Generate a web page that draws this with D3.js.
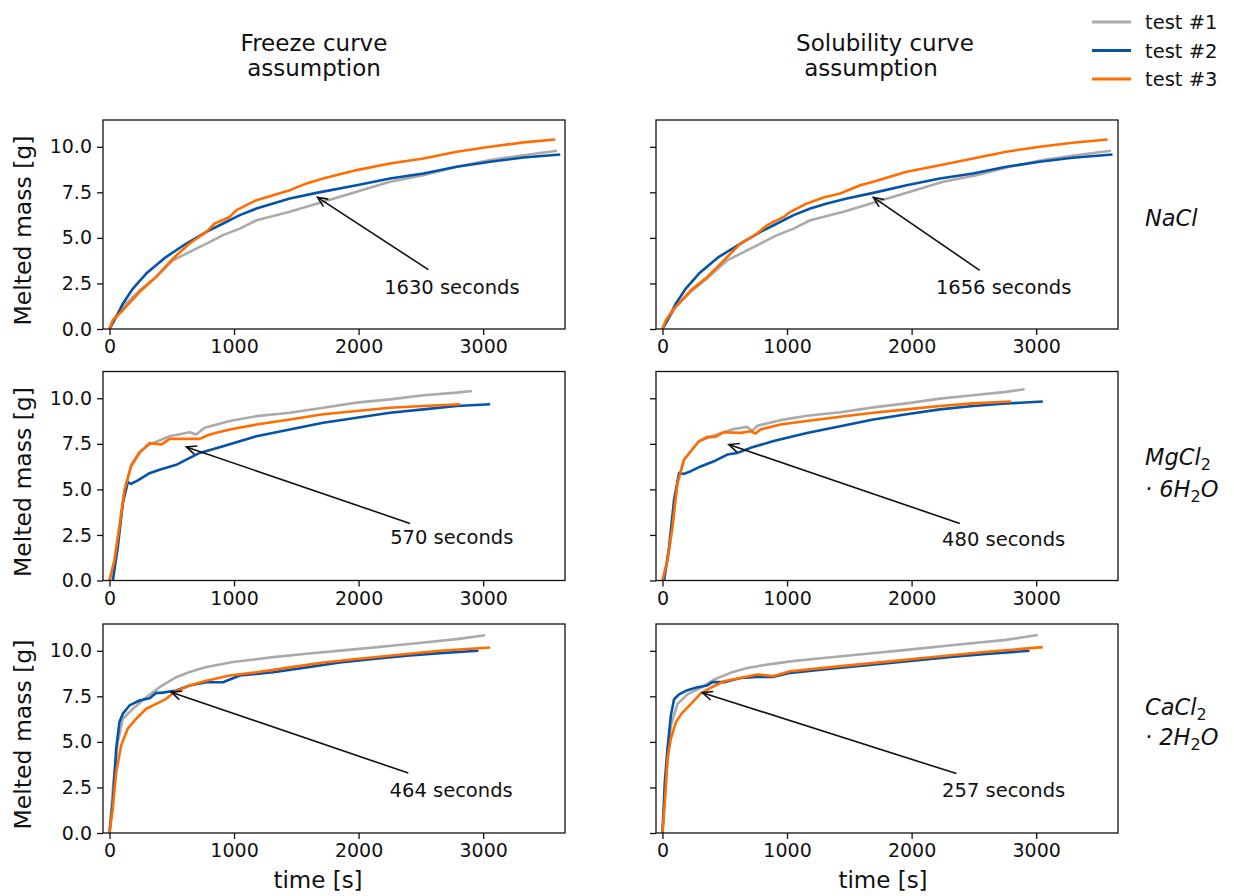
<!DOCTYPE html>
<html>
<head>
<meta charset="utf-8">
<script src="https://cdn.jsdelivr.net/npm/d3@7"></script>
<style>
  body { margin: 0; background: #fff; }
  text { font-family: "DejaVu Sans", sans-serif; fill: #111; }
</style>
</head>
<body>
<svg></svg>
<script>
// series: [time s, melted mass g]
const naclFreeze1 = [[0,0],[30,0.5],[107,1.21],[241,2.12],[375,2.86],[509,3.77],[617,4.14],[778,4.69],[912,5.15],[1046,5.51],[1180,5.97],[1448,6.43],[1716,6.98],[1984,7.53],[2252,8.08],[2520,8.44],[2788,8.9],[3056,9.27],[3324,9.54],[3592,9.78]]
const naclFreeze2 = [[0,0],[54,0.66],[107,1.39],[188,2.22],[295,3.04],[456,3.96],[617,4.69],[778,5.33],[912,5.79],[1046,6.25],[1180,6.61],[1314,6.89],[1448,7.16],[1662,7.47],[1984,7.89],[2252,8.26],[2520,8.53],[2788,8.9],[3056,9.18],[3324,9.41],[3619,9.58]]
const naclFreeze3 = [[0,0],[27,0.48],[107,1.03],[241,2.03],[375,2.86],[509,3.86],[643,4.69],[778,5.33],[845,5.79],[965,6.15],[1019,6.52],[1180,7.07],[1314,7.34],[1448,7.62],[1582,7.99],[1716,8.26],[1984,8.72],[2252,9.08],[2520,9.36],[2788,9.73],[3056,10.0],[3324,10.24],[3579,10.4]]

const naclSol1 = [[0,0],[107,1.21],[240,2.12],[373,2.86],[520,3.77],[627,4.14],[787,4.69],[920,5.15],[1053,5.51],[1187,5.97],[1453,6.43],[1720,6.98],[1987,7.53],[2253,8.08],[2520,8.44],[2787,8.9],[3053,9.27],[3320,9.54],[3600,9.78]]
const naclSol2 = [[0,0],[53,0.66],[107,1.39],[187,2.22],[293,3.04],[453,3.96],[627,4.69],[787,5.33],[920,5.79],[1053,6.25],[1187,6.61],[1320,6.89],[1480,7.16],[1693,7.47],[1960,7.89],[2227,8.26],[2493,8.53],[2760,8.9],[3027,9.18],[3293,9.4],[3613,9.58]]
const naclSol3 = [[0,0],[27,0.48],[93,1.12],[227,2.12],[360,2.86],[493,3.77],[627,4.69],[760,5.24],[840,5.7],[973,6.15],[1027,6.43],[1160,6.89],[1293,7.22],[1427,7.44],[1587,7.89],[1693,8.08],[1960,8.63],[2227,8.99],[2493,9.36],[2760,9.73],[3027,10.0],[3293,10.22],[3573,10.4]]

const mgFreeze1 = [[0,0],[40,1.1],[80,2.95],[121,4.97],[174,6.35],[241,7.05],[322,7.46],[483,7.92],[643,8.14],[697,8.01],[764,8.38],[965,8.75],[1180,9.02],[1448,9.21],[1716,9.48],[1984,9.76],[2252,9.94],[2520,10.17],[2788,10.31],[2909,10.4]]
const mgFreeze2 = [[27,0],[67,1.84],[107,4.24],[147,5.4],[174,5.3],[228,5.5],[322,5.89],[402,6.08],[536,6.35],[617,6.63],[724,7.0],[912,7.37],[1180,7.92],[1448,8.29],[1716,8.66],[1984,8.93],[2252,9.21],[2520,9.39],[2788,9.58],[3056,9.67]]
const mgFreeze3 = [[0,0],[40,1.1],[80,2.95],[121,4.97],[174,6.26],[241,7.0],[322,7.55],[416,7.46],[483,7.77],[590,7.77],[724,7.77],[804,8.01],[965,8.29],[1180,8.56],[1448,8.84],[1716,9.12],[1984,9.3],[2252,9.48],[2520,9.58],[2815,9.67]]

const mgSol1 = [[0,0],[40,1.1],[80,2.95],[120,5.34],[173,6.63],[227,7.09],[293,7.64],[440,8.03],[573,8.31],[680,8.43],[720,8.21],[760,8.49],[947,8.8],[1160,9.04],[1427,9.23],[1693,9.5],[1960,9.72],[2227,9.98],[2493,10.17],[2760,10.35],[2907,10.5]]
const mgSol2 = [[13,0],[53,1.84],[93,4.42],[133,5.9],[173,5.85],[227,6.0],[307,6.26],[413,6.54],[520,6.91],[600,7.0],[707,7.28],[893,7.65],[1160,8.1],[1427,8.47],[1693,8.84],[1960,9.12],[2227,9.39],[2493,9.58],[2760,9.71],[3053,9.82]]
const mgSol3 = [[0,0],[40,1.1],[80,2.95],[120,5.34],[173,6.63],[227,7.09],[293,7.64],[360,7.88],[427,7.88],[493,8.14],[627,8.1],[707,8.19],[747,8.07],[787,8.29],[947,8.56],[1160,8.75],[1427,8.99],[1693,9.21],[1960,9.39],[2227,9.58],[2493,9.72],[2800,9.82]]

const caFreeze1 = [[0,0],[32,2.82],[67,5.0],[107,6.27],[188,6.82],[295,7.45],[402,8.0],[536,8.55],[643,8.84],[778,9.11],[992,9.38],[1314,9.65],[1582,9.84],[1984,10.09],[2386,10.36],[2788,10.64],[3016,10.85]]
const caFreeze2 = [[0,0],[27,1.73],[54,4.64],[80,6.09],[107,6.55],[161,7.0],[241,7.27],[322,7.4],[375,7.69],[416,7.69],[536,7.82],[643,8.09],[778,8.27],[912,8.27],[1046,8.64],[1314,8.82],[1582,9.09],[1850,9.36],[2118,9.55],[2386,9.73],[2654,9.87],[2962,10.0]]
const caFreeze3 = [[0,0],[27,1.36],[54,3.36],[94,4.82],[147,5.73],[214,6.27],[295,6.82],[375,7.09],[456,7.36],[523,7.76],[643,8.09],[778,8.36],[965,8.64],[1180,8.82],[1448,9.09],[1716,9.36],[1984,9.55],[2386,9.82],[2654,10.0],[3056,10.18]]

const caSol1 = [[0,0],[27,2.81],[67,5.89],[120,7.07],[200,7.61],[307,7.97],[413,8.42],[547,8.79],[680,9.06],[840,9.24],[1027,9.42],[1293,9.6],[1560,9.78],[1960,10.05],[2360,10.33],[2760,10.6],[3013,10.87]]
const caSol2 = [[0,0],[19,2.81],[40,4.62],[67,6.43],[93,7.34],[133,7.61],[200,7.84],[280,8.0],[360,8.1],[400,8.28],[493,8.28],[627,8.51],[760,8.57],[893,8.57],[1027,8.79],[1293,8.97],[1560,9.15],[1827,9.33],[2093,9.51],[2360,9.69],[2627,9.84],[2947,10.0]]
const caSol3 = [[0,0],[19,1.72],[40,4.08],[67,5.16],[107,6.07],[160,6.61],[227,7.07],[307,7.66],[387,7.97],[493,8.33],[627,8.51],[760,8.7],[893,8.61],[1027,8.88],[1293,9.06],[1560,9.24],[1827,9.42],[2093,9.6],[2360,9.78],[2627,9.96],[3053,10.2]]

const seriesNames = ["test #1", "test #2", "test #3"]
const colors = ["#aaaaaa", "#0553a8", "#ff6c00"]
const xTicks = [0, 1000, 2000, 3000]
const yTicks = [0, 2.5, 5, 7.5, 10]
const colTitles = [["Freeze curve", "assumption"], ["Solubility curve", "assumption"]]

// panels in row order: NaCl, MgCl2, CaCl2 ; columns freeze / solubility
const panelSeries = [
  [naclFreeze1, naclFreeze2, naclFreeze3], [naclSol1, naclSol2, naclSol3],
  [mgFreeze1, mgFreeze2, mgFreeze3], [mgSol1, mgSol2, mgSol3],
  [caFreeze1, caFreeze2, caFreeze3], [caSol1, caSol2, caSol3],
]
const annoText = ["1630 seconds", "1656 seconds", "570 seconds", "480 seconds", "464 seconds", "257 seconds"]
const arrowTips = [[1670,7.22],[1693,7.22],[617,7.33],[533,7.46],[496,7.73],[320,7.7]]
const arrowTails = [[2560,3.26],[2547,3.22],[2413,3.13],[2387,3.13],[2399,3.29],[2360,3.26]]
const labelPos = [[2749,2.31],[2739,2.31],[2748,2.39],[2739,2.30],[2743,2.36],[2739,2.36]]

const w = 1234
const h = 896
const colLeft = [103, 656]
const rowTop = [120, 371.5, 624]
const pw = 462
const ph = 209

const svg = d3.select("svg").attr("width", w).attr("height", h)

const xScale = d3.scaleLinear().domain([-52, 3657]).range([0, pw])
const yScale = d3.scaleLinear().domain([0, 11.47]).range([ph, 0])

const line = d3.line().x((d) => xScale(d[0])).y((d) => yScale(d[1]))

panelSeries.forEach((series, i) => {
  const row = Math.floor(i / 2)
  const col = i % 2
  const g = svg.append("g").attr("transform", `translate(${colLeft[col]},${rowTop[row]})`)

  const xAxis = d3.axisBottom(xScale).tickValues(xTicks).tickSize(6).tickPadding(5).tickSizeOuter(0)
    .tickFormat(d3.format("d"))
  const yAxis = d3.axisLeft(yScale).tickValues(yTicks).tickSize(6).tickPadding(5).tickSizeOuter(0)
    .tickFormat(col === 0 ? d3.format(".1f") : "")

  const gx = g.append("g").attr("transform", `translate(0,${ph})`).call(xAxis)
  const gy = g.append("g").call(yAxis)
  ;[gx, gy].forEach((a) => {
    a.select(".domain").remove()
    a.selectAll("line").attr("stroke", "#111").attr("stroke-width", 1.3)
    a.selectAll("text").style("font-size", "19px").attr("fill", "#111")
  })

  series.forEach((s, k) => {
    g.append("path")
      .datum(s)
      .attr("d", line)
      .attr("fill", "none")
      .attr("stroke", colors[k])
      .attr("stroke-width", 2.6)
      .attr("stroke-linejoin", "round")
  })

  g.append("rect")
    .attr("width", pw).attr("height", ph)
    .attr("fill", "none").attr("stroke", "#111").attr("stroke-width", 1.3)

  // annotation arrow
  const tx = xScale(arrowTips[i][0]), ty = yScale(arrowTips[i][1])
  const sx = xScale(arrowTails[i][0]), sy = yScale(arrowTails[i][1])
  const ang = Math.atan2(sy - ty, sx - tx)
  const hl = 11
  const hw = 0.42
  g.append("line").attr("x1", sx).attr("y1", sy).attr("x2", tx).attr("y2", ty)
    .attr("stroke", "#111").attr("stroke-width", 1.6)
  g.append("path")
    .attr("d", `M${tx + hl * Math.cos(ang + hw)},${ty + hl * Math.sin(ang + hw)}L${tx},${ty}L${tx + hl * Math.cos(ang - hw)},${ty + hl * Math.sin(ang - hw)}`)
    .attr("fill", "none").attr("stroke", "#111").attr("stroke-width", 1.6)
  g.append("text")
    .attr("x", xScale(labelPos[i][0]))
    .attr("y", yScale(labelPos[i][1]))
    .attr("text-anchor", "middle")
    .attr("dy", "0.36em")
    .style("font-size", "19.5px")
    .text(annoText[i])

  if (col === 0) {
    svg.append("text")
      .attr("transform", `translate(31,${rowTop[row] + ph / 2 + 6}) rotate(-90)`)
      .attr("text-anchor", "middle")
      .style("font-size", "23.5px")
      .text("Melted mass [g]")
  }
})

// x labels
;[318, 883].forEach((cx) => {
  svg.append("text").attr("x", cx).attr("y", 888).attr("text-anchor", "middle")
    .style("font-size", "23px").text("time [s]")
})

// column titles
const titleX = [[314, 314], [885, 871]]
colTitles.forEach((lines, c) => {
  lines.forEach((t, j) => {
    svg.append("text")
      .attr("x", titleX[c][j]).attr("y", 51 + j * 25)
      .attr("text-anchor", "middle")
      .style("font-size", "23px")
      .text(t)
  })
})

// row labels (italic chemical formulas)
const rowLabels = [
  [[["NaCl", false]]],
  [[["MgCl", false], ["2", true]], [["· 6H", false], ["2", true], ["O", false]]],
  [[["CaCl", false], ["2", true]], [["· 2H", false], ["2", true], ["O", false]]],
]
const rowLabelY = [[226], [465, 497], [715, 745]]
rowLabels.forEach((lines, r) => {
  lines.forEach((parts, j) => {
    const t = svg.append("text")
      .attr("x", 1145).attr("y", rowLabelY[r][j])
      .style("font-size", "22.5px").style("font-style", "italic")
    parts.forEach(([s, sub]) => {
      if (sub) {
        t.append("tspan").attr("dy", 5).style("font-size", "16px").style("font-style", "normal").text(s)
      } else {
        const ts = t.append("tspan").text(s)
        if (t.selectAll("tspan").size() > 1) ts.attr("dy", -5)
      }
    })
  })
})

// legend
seriesNames.forEach((name, k) => {
  const y = 22 + k * 28.5
  svg.append("line").attr("x1", 1092).attr("x2", 1131).attr("y1", y).attr("y2", y)
    .attr("stroke", colors[k]).attr("stroke-width", 3)
  svg.append("text").attr("x", 1145).attr("y", y).attr("dy", "0.36em")
    .style("font-size", "19.5px").text(name)
})
</script>
</body>
</html>
